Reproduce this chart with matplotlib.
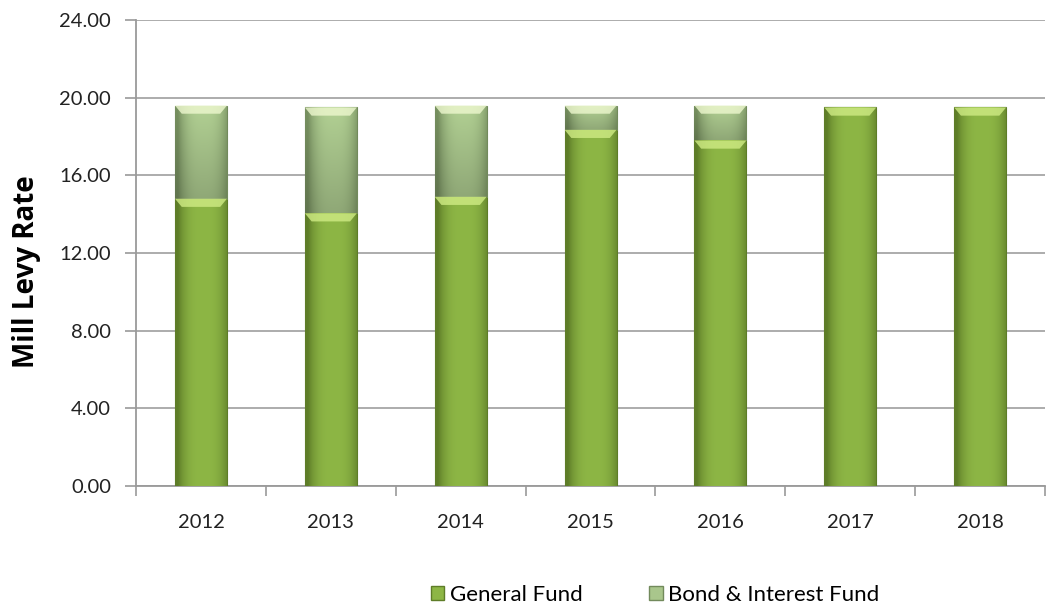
import matplotlib
matplotlib.use("Agg")
import matplotlib.pyplot as plt
import numpy as np
from matplotlib.patches import Patch, Polygon
from matplotlib.colors import to_rgb
from matplotlib.ticker import FormatStrFormatter, FixedLocator

years = ["2012", "2013", "2014", "2015", "2016", "2017", "2018"]
general_fund = [14.80, 14.05, 14.90, 18.35, 17.80, 19.50, 19.50]
bond_interest_fund = [4.80, 5.45, 4.70, 1.25, 1.80, 0.00, 0.00]
y_ticks = [0, 4, 8, 12, 16, 20, 24]

plt.rcParams['font.family'] = ['Lato', 'DejaVu Sans']

fig = plt.figure(figsize=(10.57, 6.05), dpi=100)
ax = fig.add_axes([0.1287, 0.1967, 0.86, 0.770])

x = np.arange(len(years))
width = 0.40

gen_main, gen_edge, gen_light = "#8db645", "#5e7d28", "#d0ec85"
bond_main, bond_edge, bond_light = "#a9c68c", "#728a5c", "#eef8cf"

b1 = ax.bar(x, general_fund, width, color=gen_main, edgecolor=gen_edge,
            linewidth=0.8, zorder=3, label="General Fund")
b2 = ax.bar(x, bond_interest_fund, width, bottom=general_fund, color=bond_main,
            edgecolor=bond_edge, linewidth=0.8, zorder=3, label="Bond & Interest Fund")


def shade(patch, main, dark, light, vert=False):
    bx, by = patch.get_x(), patch.get_y()
    bw, bh = patch.get_width(), patch.get_height()
    if bh <= 0:
        return
    m = np.array(to_rgb(main))
    d = np.array(to_rgb(dark))
    u = np.linspace(-1, 1, 60)
    t = np.clip(np.abs(u - 0.1) ** 3, 0, 1)
    row = m[None, :] * (1 - t[:, None]) + d[None, :] * t[:, None]
    ny = 40
    if vert:
        v = np.linspace(0, 1, ny)[:, None, None]  # 0 bottom
        img = row[None, :, :] * (0.85 + 0.2 * v)
        img = np.clip(img, 0, 1)
    else:
        img = np.repeat(row[None, :, :], ny, axis=0)
    im = ax.imshow(img, extent=(bx, bx + bw, by, by + bh), origin="lower",
                   aspect="auto", zorder=3.5, interpolation="bilinear")
    im.set_clip_path(patch)
    # top bevel
    bev = min(0.42, bh * 0.5)
    ins = bw * 0.13
    top = by + bh
    poly = Polygon([(bx, top), (bx + bw, top), (bx + bw - ins, top - bev),
                    (bx + ins, top - bev)], closed=True, facecolor=light,
                   edgecolor="none", alpha=0.8, zorder=3.6)
    ax.add_patch(poly)
    ax.add_patch(Polygon(patch.get_verts(), closed=True, facecolor="none",
                         edgecolor=dark, linewidth=0.8, zorder=3.7))


for p in b1:
    shade(p, gen_main, gen_edge, gen_light)
for p in b2:
    shade(p, bond_main, bond_edge, bond_light, vert=True)

ax.set_xlim(-0.5, len(years) - 0.5)
ax.set_ylim(0, 24)
ax.yaxis.set_major_locator(FixedLocator(y_ticks))
ax.yaxis.set_major_formatter(FormatStrFormatter("%.2f"))
ax.set_xticks(x)
ax.set_xticklabels(years)
ax.xaxis.set_minor_locator(FixedLocator(np.arange(-0.5, len(years), 1.0)))
ax.tick_params(axis="x", which="major", length=0, pad=20, labelsize=14.5,
               labelcolor="#222222")
ax.tick_params(axis="x", which="minor", length=7, color="#9a9a9a", width=1.2)
ax.tick_params(axis="y", length=8, color="#9a9a9a", width=1.2, pad=10,
               labelsize=14.5, labelcolor="#222222")

ax.grid(axis="y", color="#a6a6a6", linewidth=1.3, zorder=0)
ax.set_axisbelow(True)
for s in ["top", "right"]:
    ax.spines[s].set_visible(False)
for s in ["left", "bottom"]:
    ax.spines[s].set_color("#9a9a9a")
    ax.spines[s].set_linewidth(1.3)

ax.set_ylabel("Mill Levy Rate", fontsize=20, fontweight="bold",
              family=["Open Sans", "DejaVu Sans"])
ax.yaxis.set_label_coords(-0.105, 0.46)

handles = [Patch(facecolor=gen_main, edgecolor=gen_edge, label="General Fund"),
           Patch(facecolor=bond_main, edgecolor=bond_edge, label="Bond & Interest Fund")]
fig.legend(handles=handles, loc="lower center", bbox_to_anchor=(0.62, -0.033),
           ncol=2, frameon=False, fontsize=16, handlelength=0.6, handleheight=0.6,
           handletextpad=0.25, columnspacing=3.0)

fig.savefig("out.png", dpi=100)
